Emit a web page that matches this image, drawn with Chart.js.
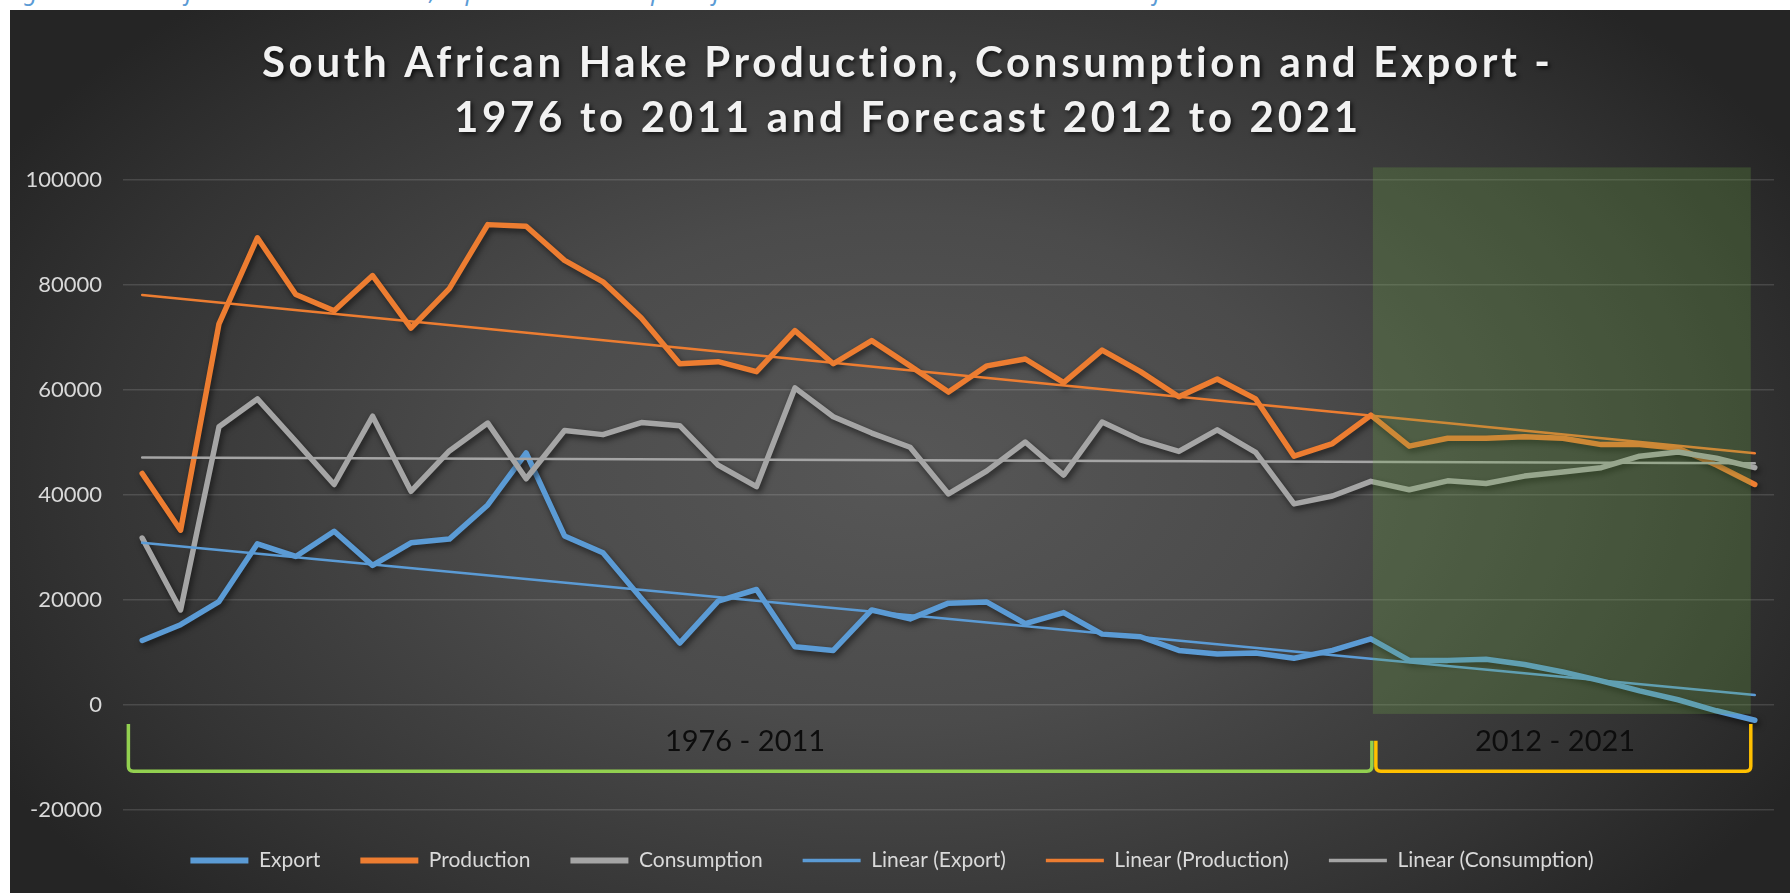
<!DOCTYPE html>
<html>
<head>
<meta charset="utf-8">
<script src="https://cdn.jsdelivr.net/npm/chart.js@4.4.1/dist/chart.umd.min.js"></script>
<style>
  html, body { margin: 0; padding: 0; background: #ffffff; width: 1790px; height: 893px; overflow: hidden; }
  #caption { position: absolute; left: 6px; top: -26px; font-family: "Noto Sans", sans-serif; font-style: italic; font-size: 24px; color: #5b9bd5; white-space: nowrap; }
  #panel { position: absolute; left: 10px; top: 10px; width: 1780px; height: 883px;
    background: radial-gradient(ellipse 58% 72% at 50% 52%, #575757 0%, #4b4b4b 40%, #343434 78%, #252525 100%); }
  #c { position: absolute; left: 0; top: 0; }
</style>
</head>
<body>
<div id="caption">Figure 4: South African Hake Production, Export and Consumption for the Period 1976 to 2011 and Forecast for the Period 2012 to 2021</div>
<div id="panel"></div>
<canvas id="c" width="1790" height="893"></canvas>
<script>
// ---- data ----
const years = [];
for (let y = 1979; y <= 2021; y++) years.push(String(y));

const exportValues = [12300, 15300, 19700, 30700, 28300, 33100, 26600, 30900, 31600, 38100,
  48000, 32200, 29000, 20300, 11800, 19800, 22000, 11100, 10400, 18100,
  16400, 19400, 19600, 15500, 17600, 13500, 13000, 10400, 9700, 9900,
  8900, 10400, 12600, 8500, 8500, 8700, 7700, 6300, 4600, 2700,
  1000, -1100, -2900];

const productionValues = [44100, 33300, 72600, 89000, 78200, 75100, 81800, 71800, 79300, 91500,
  91200, 84700, 80600, 73700, 65000, 65400, 63500, 71300, 65000, 69400,
  64600, 59600, 64600, 65900, 61400, 67600, 63500, 58700, 62100, 58300,
  47400, 49800, 55200, 49300, 50800, 50800, 51100, 50800, 49600, 49600,
  48900, 45700, 42000];

const consumptionValues = [31800, 18100, 53000, 58300, 50200, 42000, 55000, 40700, 48400, 53700,
  43100, 52300, 51500, 53800, 53200, 45700, 41600, 60400, 54900, 51800,
  49100, 40200, 44600, 50100, 43800, 53900, 50500, 48300, 52400, 48100,
  38300, 39800, 42600, 41000, 42700, 42200, 43600, 44400, 45200, 47400,
  48200, 47000, 45200];

// trend line end values [first year, last year]
const exportTrendEnds = [30900, 1900];
const productionTrendEnds = [78100, 47950];
const consumptionTrendEnds = [47150, 46050];

const yTicks = [-20000, 0, 20000, 40000, 60000, 80000, 100000];
const titleLines = ['South African Hake Production, Consumption and Export -', '1976 to 2011 and Forecast 2012 to 2021'];
const periodLabels = ['1976 - 2011', '2012 - 2021'];
const forecastStartIndex = 32;

function trendSeries(ends) {
  return years.map((_, i) => i === 0 ? ends[0] : (i === years.length - 1 ? ends[1] : null));
}

const BLUE = '#5b9bd5', ORANGE = '#ed7d31', GRAY = '#a5a5a5';

const shadowPlugin = {
  id: 'lineShadow',
  beforeDatasetDraw(chart, args) {
    const ctx = chart.ctx;
    ctx.save();
    const ds = chart.data.datasets[args.index];
    if (ds.shadow) {
      ctx.shadowColor = 'rgba(0,0,0,0.6)';
      ctx.shadowBlur = 6;
      ctx.shadowOffsetX = 2;
      ctx.shadowOffsetY = 3;
    }
  },
  afterDatasetDraw(chart) { chart.ctx.restore(); }
};

const shadePlugin = {
  id: 'forecastShade',
  afterDatasetsDraw(chart) {
    const ctx = chart.ctx, xs = chart.scales.x, ys = chart.scales.y;
    const x0 = xs.getPixelForValue(forecastStartIndex) + 2;
    const x1 = xs.getPixelForValue(years.length - 1) - 4;
    const y0 = ys.getPixelForValue(102400);
    const y1 = ys.getPixelForValue(-1700);
    ctx.save();
    ctx.fillStyle = 'rgba(112,173,71,0.25)';
    ctx.fillRect(x0, y0, x1 - x0, y1 - y0);
    ctx.restore();
  }
};

const decorPlugin = {
  id: 'decor',
  afterDraw(chart) {
    const ctx = chart.ctx, xs = chart.scales.x, ys = chart.scales.y;
    // Title
    ctx.save();
    ctx.font = 'bold 42px Lato';
    ctx.fillStyle = '#f2f2f2';
    ctx.textAlign = 'center';
    ctx.textBaseline = 'middle';
    ctx.letterSpacing = '0px';
    const w0 = ctx.measureText(titleLines[0]).width;
    const sp = Math.max(0, (1293 - w0) / titleLines[0].length);
    ctx.letterSpacing = sp.toFixed(2) + 'px';
    ctx.shadowColor = 'rgba(0,0,0,0.75)';
    ctx.shadowBlur = 4;
    ctx.shadowOffsetX = 2;
    ctx.shadowOffsetY = 2;
    ctx.fillText(titleLines[0], 906 + sp / 2, 63);
    ctx.fillText(titleLines[1], 906 + sp / 2, 118);
    ctx.restore();

    // Period brackets
    const xL = xs.getPixelForValue(-0.36);
    const xM = xs.getPixelForValue(forecastStartIndex) + 3;
    const xR = xs.getPixelForValue(years.length - 1) - 4;
    const yBase = ys.getPixelForValue(-12600);
    const yTop = ys.getPixelForValue(-3600);
    const yMid = ys.getPixelForValue(-6800);
    const r = 5;
    ctx.save();
    ctx.lineWidth = 3.5;
    ctx.lineJoin = 'round';
    ctx.lineCap = 'butt';
    ctx.strokeStyle = '#92d050';
    ctx.beginPath();
    ctx.moveTo(xL, yTop);
    ctx.lineTo(xL, yBase - r);
    ctx.quadraticCurveTo(xL, yBase, xL + r, yBase);
    ctx.lineTo(xM - 2 - r, yBase);
    ctx.quadraticCurveTo(xM - 2, yBase, xM - 2, yBase - r);
    ctx.lineTo(xM - 2, yMid);
    ctx.stroke();
    ctx.strokeStyle = '#ffc000';
    ctx.beginPath();
    ctx.moveTo(xM + 2, yMid);
    ctx.lineTo(xM + 2, yBase - r);
    ctx.quadraticCurveTo(xM + 2, yBase, xM + 2 + r, yBase);
    ctx.lineTo(xR - r, yBase);
    ctx.quadraticCurveTo(xR, yBase, xR, yBase - r);
    ctx.lineTo(xR, yTop);
    ctx.stroke();

    ctx.font = '29px Lato';
    ctx.fillStyle = '#0d0d0d';
    ctx.textAlign = 'center';
    ctx.textBaseline = 'middle';
    ctx.fillText(periodLabels[0], 745, ys.getPixelForValue(-6900));
    ctx.fillText(periodLabels[1], 1555, ys.getPixelForValue(-6900));
    ctx.restore();
  }
};

function build() {
  const ctx = document.getElementById('c').getContext('2d');
  new Chart(ctx, {
    type: 'line',
    data: {
      labels: years,
      datasets: [
        { label: 'Export', data: exportValues, borderColor: BLUE, backgroundColor: BLUE, borderWidth: 5.5,
          pointBorderWidth: 6, pointBorderColor: BLUE, shadow: true, order: 6 },
        { label: 'Production', data: productionValues, borderColor: ORANGE, backgroundColor: ORANGE, borderWidth: 5.5,
          pointBorderWidth: 6, pointBorderColor: ORANGE, shadow: true, order: 5 },
        { label: 'Consumption', data: consumptionValues, borderColor: GRAY, backgroundColor: GRAY, borderWidth: 5.5,
          pointBorderWidth: 6, pointBorderColor: GRAY, shadow: true, order: 4 },
        { label: 'Linear (Export)', data: trendSeries(exportTrendEnds), borderColor: BLUE, backgroundColor: BLUE,
          borderWidth: 2.5, pointBorderWidth: 3.5, pointBorderColor: BLUE, spanGaps: true, order: 3 },
        { label: 'Linear (Production)', data: trendSeries(productionTrendEnds), borderColor: ORANGE, backgroundColor: ORANGE,
          borderWidth: 2.5, pointBorderWidth: 3.5, pointBorderColor: ORANGE, spanGaps: true, order: 2 },
        { label: 'Linear (Consumption)', data: trendSeries(consumptionTrendEnds), borderColor: GRAY, backgroundColor: GRAY,
          borderWidth: 2.5, pointBorderWidth: 3.5, pointBorderColor: GRAY, spanGaps: true, order: 1 }
      ]
    },
    options: {
      responsive: false,
      animation: false,
      devicePixelRatio: 1,
      layout: { padding: { left: 10, right: 16, top: 180, bottom: 12 } },
      elements: {
        point: { radius: 0, hoverRadius: 0, pointStyle: 'line' },
        line: { tension: 0, borderCapStyle: 'round', borderJoinStyle: 'round' }
      },
      scales: {
        x: { type: 'category', display: false, offset: true },
        y: {
          min: -20000, max: 100000,
          afterFit(scale) { scale.width = 113; },
          afterBuildTicks(scale) { scale.ticks = yTicks.map(v => ({ value: v })); },
          border: { display: false },
          grid: { color: 'rgba(255,255,255,0.13)', lineWidth: 1.5, drawTicks: false },
          ticks: { color: '#d9d9d9', font: { family: 'Lato', size: 22 }, padding: 21,
            callback: v => String(v) }
        }
      },
      plugins: {
        title: { display: false },
        tooltip: { enabled: false },
        legend: {
          position: 'bottom',
          labels: {
            color: '#d9d9d9',
            font: { family: 'Lato', size: 21 },
            usePointStyle: true,
            pointStyleWidth: 58,
            padding: 40,
            sort: (a, b) => a.datasetIndex - b.datasetIndex
          }
        }
      }
    },
    plugins: [shadowPlugin, shadePlugin, decorPlugin]
  });
}

Promise.all([
  document.fonts.load('bold 42px Lato'),
  document.fonts.load('21px Lato'),
  document.fonts.load('italic 24px "Noto Sans"')
]).then(build, build);
</script>
</body>
</html>
